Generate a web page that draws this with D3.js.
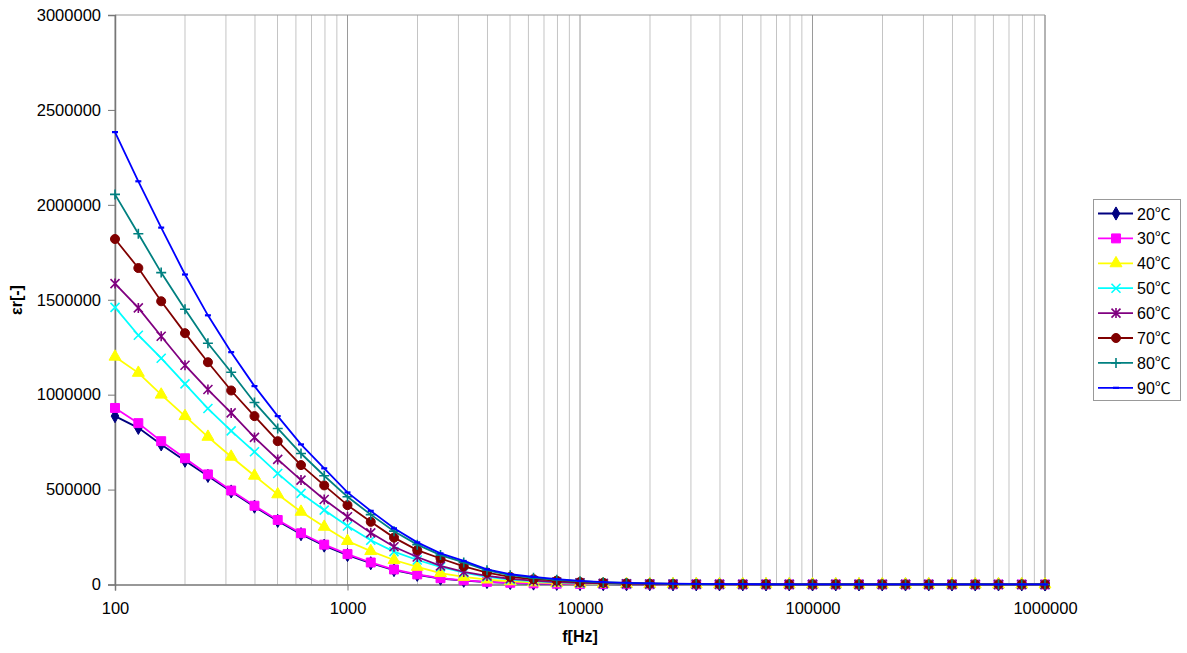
<!DOCTYPE html>
<html>
<head>
<meta charset="utf-8">
<script src="https://cdn.jsdelivr.net/npm/d3@7"></script>
<style>
  body { margin: 0; background: #fff; }
  svg { display: block; font-family: "Liberation Sans", Arial, sans-serif; }
</style>
</head>
<body>
<svg id="chart" width="1187" height="653"></svg>
<script>
// frequencies (Hz), 10 points per decade
var freqs = [100, 126, 158, 200, 251, 316, 398, 501, 631, 794,
  1000, 1259, 1585, 1995, 2512, 3162, 3981, 5012, 6310, 7943,
  10000, 12589, 15849, 19953, 25119, 31623, 39811, 50119, 63096, 79433,
  100000, 125893, 158489, 199526, 251189, 316228, 398107, 501187, 630957, 794328, 1000000];

var temps = ["20℃", "30℃", "40℃", "50℃", "60℃", "70℃", "80℃", "90℃"];

var t20 = [887000, 825000, 738000, 652000, 572000, 490000, 410000, 335000, 265000, 205000,
  155000, 112000, 76000, 51000, 31000, 20000, 13000, 8000, 5000, 3500,
  2500, 1800, 1400, 1100, 900, 750, 640, 560, 500, 450,
  410, 380, 350, 330, 310, 300, 290, 280, 270, 260, 250];
var t30 = [930000, 850000, 755000, 665000, 580000, 495000, 415000, 340000, 270000, 210000,
  160000, 116000, 79000, 53000, 33000, 22000, 14000, 9000, 6000, 4000,
  2800, 2000, 1500, 1200, 950, 800, 680, 600, 530, 480,
  440, 400, 370, 350, 330, 315, 300, 290, 280, 270, 260];
var t40 = [1200000, 1115000, 1000000, 887000, 778000, 673000, 573000, 475000, 383000, 304000,
  229000, 176000, 129000, 93000, 60000, 40000, 26000, 17000, 11000, 7000,
  4500, 3000, 2200, 1600, 1200, 950, 800, 680, 600, 530,
  480, 440, 400, 370, 350, 330, 310, 300, 290, 280, 270];
var t50 = [1460000, 1313000, 1192000, 1057000, 927000, 809000, 699000, 585000, 480000, 392000,
  308000, 233000, 173000, 129000, 93000, 62000, 40000, 26000, 17000, 11000,
  7000, 4500, 3200, 2300, 1700, 1300, 1000, 820, 700, 600,
  530, 480, 440, 400, 370, 350, 330, 310, 300, 290, 280];
var t60 = [1585000, 1457000, 1308000, 1155000, 1027000, 904000, 775000, 659000, 550000, 448000,
  357000, 272000, 199000, 145000, 98000, 66000, 45000, 30000, 20000, 13000,
  9000, 6000, 4000, 2800, 2000, 1500, 1150, 920, 760, 650,
  560, 500, 450, 410, 380, 350, 330, 310, 300, 290, 280];
var t70 = [1820000, 1667000, 1492000, 1324000, 1171000, 1022000, 887000, 755000, 629000, 522000,
  418000, 330000, 247000, 181000, 137000, 96000, 63000, 40000, 28000, 20000,
  13000, 9000, 6000, 4200, 3000, 2200, 1600, 1250, 1000, 820,
  700, 600, 530, 480, 430, 400, 370, 350, 330, 310, 300];
var t80 = [2055000, 1848000, 1643000, 1450000, 1271000, 1118000, 959000, 822000, 690000, 573000,
  462000, 368000, 281000, 210000, 155000, 116000, 75000, 49000, 35000, 25000,
  17000, 11500, 7800, 5400, 3800, 2700, 2000, 1500, 1150, 920,
  760, 650, 560, 500, 450, 410, 380, 350, 330, 310, 300];
var t90 = [2383000, 2124000, 1880000, 1633000, 1418000, 1224000, 1045000, 887000, 738000, 612000,
  485000, 388000, 296000, 222000, 164000, 124000, 80000, 54000, 40000, 28000,
  19000, 13000, 9000, 6000, 4300, 3100, 2300, 1700, 1300, 1000,
  820, 700, 600, 530, 470, 430, 390, 360, 340, 320, 300];

var yTicks = [0, 500000, 1000000, 1500000, 2000000, 2500000, 3000000];
var xTicks = [100, 1000, 10000, 100000, 1000000];

var colors = ["#000080", "#ff00ff", "#ffff00", "#00ffff", "#800080", "#800000", "#008080", "#0000ff"];
var markers = ["diamond", "square", "triangle", "x", "star", "circle", "plus", "dash"];
var allSeries = [t20, t30, t40, t50, t60, t70, t80, t90];

var svg = d3.select("#chart");
var pLeft = 115, pRight = 1045, pTop = 15, pBottom = 584.5;

var x = d3.scaleLog().domain([100, 1000000]).range([pLeft, pRight]);
var y = d3.scaleLinear().domain([0, 3000000]).range([pBottom, pTop]);

// vertical gridlines at every log step
var gridVals = [];
[100, 1000, 10000, 100000].forEach(function(d) {
  for (var m = 1; m <= 9; m++) gridVals.push(d * m);
});
gridVals.push(1000000);

svg.append("g").selectAll("line")
  .data(gridVals)
  .enter().append("line")
  .attr("x1", d => x(d)).attr("x2", d => x(d))
  .attr("y1", pTop).attr("y2", pBottom)
  .attr("stroke", d => xTicks.indexOf(d) >= 0 ? "#9a9a9a" : "#c4c4c4")
  .attr("stroke-width", 1);

// plot border (top + right)
svg.append("line").attr("x1", pLeft).attr("x2", pRight).attr("y1", pTop).attr("y2", pTop)
  .attr("stroke", "#9a9a9a");
svg.append("line").attr("x1", pRight).attr("x2", pRight).attr("y1", pTop).attr("y2", pBottom)
  .attr("stroke", "#9a9a9a");

// axes
var yAxis = svg.append("g")
  .attr("transform", "translate(" + pLeft + ",0)")
  .call(d3.axisLeft(y).tickValues(yTicks).tickFormat(d3.format("d")).tickSize(7).tickPadding(7));
var xAxis = svg.append("g")
  .attr("transform", "translate(0," + pBottom + ")")
  .call(d3.axisBottom(x).tickValues(xTicks).tickFormat(d3.format("d")).tickSize(6).tickPadding(12));

[yAxis, xAxis].forEach(function(a) {
  a.select(".domain").attr("stroke", "#777").attr("stroke-width", 1.5);
  a.selectAll(".tick line").attr("stroke", "#777");
  a.selectAll("text").attr("fill", "#000").style("font-size", "16.5px")
    .style("font-family", "'Liberation Sans', Arial, sans-serif");
});

// axis titles
svg.append("text")
  .attr("x", 580).attr("y", 642)
  .attr("text-anchor", "middle")
  .style("font-size", "16px").style("font-weight", "bold")
  .text("f[Hz]");
svg.append("text")
  .attr("transform", "translate(22,300) rotate(-90)")
  .attr("text-anchor", "middle")
  .style("font-size", "16px").style("font-weight", "bold")
  .text("εr[-]");

function drawMarker(g, type, color) {
  if (type === "diamond") {
    g.append("path").attr("d", d3.symbol(d3.symbolDiamond, 50)()).attr("fill", color).attr("stroke", color);
  } else if (type === "square") {
    g.append("path").attr("d", d3.symbol(d3.symbolSquare, 80)()).attr("fill", color).attr("stroke", color);
  } else if (type === "triangle") {
    g.append("path").attr("d", d3.symbol(d3.symbolTriangle, 62)()).attr("fill", color).attr("stroke", color);
  } else if (type === "circle") {
    g.append("path").attr("d", d3.symbol(d3.symbolCircle, 64)()).attr("fill", color).attr("stroke", color);
  } else if (type === "x") {
    g.append("path").attr("d", "M-4.5,-4.5L4.5,4.5M-4.5,4.5L4.5,-4.5").attr("stroke", color).attr("stroke-width", 1.6).attr("fill", "none");
  } else if (type === "star") {
    g.append("path").attr("d", "M-4.5,-4.5L4.5,4.5M-4.5,4.5L4.5,-4.5M0,-5V5").attr("stroke", color).attr("stroke-width", 1.6).attr("fill", "none");
  } else if (type === "plus") {
    g.append("path").attr("d", "M-5,0H5M0,-5V5").attr("stroke", color).attr("stroke-width", 1.6).attr("fill", "none");
  } else if (type === "dash") {
    g.append("path").attr("d", "M-3,0H3").attr("stroke", color).attr("stroke-width", 2.2).attr("fill", "none");
  }
}

var line = d3.line()
  .x(d => x(d[0]))
  .y(d => y(d[1]));

allSeries.forEach(function(vals, i) {
  var pts = freqs.map((f, j) => [f, vals[j]]);
  var g = svg.append("g");
  g.append("path")
    .datum(pts)
    .attr("fill", "none")
    .attr("stroke", colors[i])
    .attr("stroke-width", 1.8)
    .attr("d", line);
  g.selectAll(".pt")
    .data(pts)
    .enter().append("g")
    .attr("class", "pt")
    .attr("transform", d => "translate(" + x(d[0]) + "," + y(d[1]) + ")")
    .each(function() { drawMarker(d3.select(this), markers[i], colors[i]); });
});

// legend
var legend = svg.append("g");
legend.append("rect")
  .attr("x", 1093.5).attr("y", 199.5).attr("width", 87).attr("height", 201)
  .attr("fill", "#fff").attr("stroke", "#999");
temps.forEach(function(t, i) {
  var ly = 213.5 + i * 24.9;
  legend.append("line")
    .attr("x1", 1098).attr("x2", 1133).attr("y1", ly).attr("y2", ly)
    .attr("stroke", colors[i]).attr("stroke-width", 1.8);
  drawMarker(legend.append("g").attr("transform", "translate(1116," + ly + ")"), markers[i], colors[i]);
  legend.append("text")
    .attr("x", 1137).attr("y", ly + 6)
    .style("font-size", "16px")
    .style("font-family", "'Liberation Sans', 'Noto Sans CJK JP', sans-serif")
    .text(t);
});
</script>
</body>
</html>
